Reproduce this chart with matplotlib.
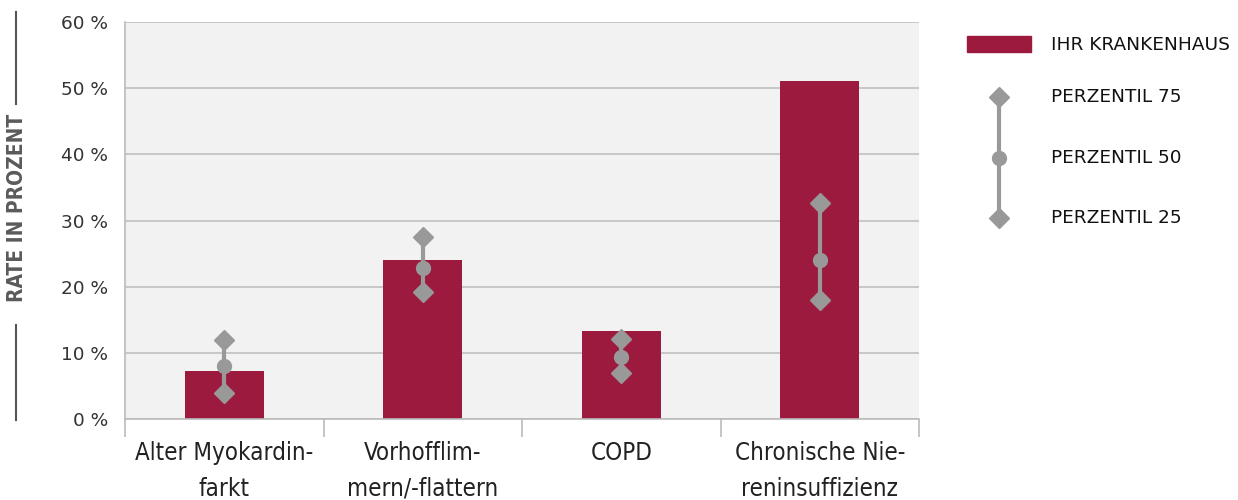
import matplotlib.pyplot as plt
from matplotlib.lines import Line2D
from matplotlib.patches import Rectangle
from matplotlib import font_manager

# values (percent)
categories = ['Alter Myokardin-\nfarkt', 'Vorhofflim-\nmern/-flattern', 'COPD', 'Chronische Nie-\nreninsuffizienz']
hospital = [7.2, 24.0, 13.3, 51.1]
p75 = [11.9, 27.5, 12.1, 32.6]
p50 = [8.0, 22.8, 9.4, 24.0]
p25 = [3.9, 19.2, 6.9, 18.0]
yticks = [0, 10, 20, 30, 40, 50, 60]

bar_color = '#9b1a3e'
grey = '#999999'

# pick a condensed face if one is installed
names = {f.name for f in font_manager.fontManager.ttflist}
if 'DejaVu Sans Condensed' in names:
    narrow = dict(family='DejaVu Sans Condensed')
elif 'Liberation Sans Narrow' in names:
    narrow = dict(family='Liberation Sans Narrow')
else:
    narrow = dict(family='DejaVu Sans', stretch='condensed')

fig = plt.figure(figsize=(12.38, 5), dpi=100)
W, H = 1238, 500
ax = fig.add_axes([125 / W, 1 - 419 / H, (919 - 125) / W, (419 - 22) / H])
ax.set_facecolor('#f2f2f2')

x = list(range(len(categories)))
ax.bar(x, hospital, width=0.4, color=bar_color, zorder=2)
for i in x:
    ax.plot([i, i], [p25[i], p75[i]], color=grey, lw=3, zorder=3)
    ax.plot([i, i], [p75[i], p25[i]], 'D', color=grey, ms=10, zorder=4)
    ax.plot(i, p50[i], 'o', color=grey, ms=10, zorder=4)

ax.set_xlim(-0.5, len(categories) - 0.5)
ax.set_ylim(0, 60)
ax.set_yticks(yticks)
ax.set_yticklabels([f'{v} %' for v in yticks], fontsize=13.3, color='#333333')
ax.yaxis.grid(True, color='#c0c0c0', lw=1.2, zorder=1)
ax.set_axisbelow(True)
ax.tick_params(axis='y', length=0, pad=12)

ax.set_xticks(x)
ax.set_xticklabels(categories, fontsize=17.3, color='#222222', linespacing=1.6, **narrow)
ax.set_xticks([-0.5, 0.5, 1.5, 2.5, 3.5], minor=True)
ax.tick_params(axis='x', which='major', length=0, pad=16)
ax.tick_params(axis='x', which='minor', length=13, color='#bbbbbb', width=1.2)

for s in ['top', 'right']:
    ax.spines[s].set_visible(False)
for s in ['left', 'bottom']:
    ax.spines[s].set_color('#bbbbbb')
    ax.spines[s].set_linewidth(1.2)

# rotated y label with lines above and below
fig.text(17 / W, 1 - 208 / H, 'RATE IN PROZENT', rotation=90, ha='center', va='center',
         fontsize=15, fontweight='bold', color='#5a5a5a', **narrow)
fig.add_artist(Line2D([16 / W, 16 / W], [1 - 12 / H, 1 - 104 / H], color='#555555', lw=1.5))
fig.add_artist(Line2D([16 / W, 16 / W], [1 - 325 / H, 1 - 420 / H], color='#555555', lw=1.5))

# legend drawn by hand
fig.add_artist(Rectangle((967 / W, 1 - 52 / H), 64 / W, 16 / H, color=bar_color))
fig.text(1051 / W, 1 - 45 / H, 'IHR KRANKENHAUS', fontsize=13.3, va='center', color='#111111')
lx = 999 / W
fig.add_artist(Line2D([lx, lx], [1 - 97 / H, 1 - 218 / H], color=grey, lw=3))
fig.add_artist(Line2D([lx, lx], [1 - 97 / H, 1 - 218 / H], marker='D', ls='none', color=grey, ms=10))
fig.add_artist(Line2D([lx], [1 - 158 / H], marker='o', ls='none', color=grey, ms=10))
for y, lab in [(97, 'PERZENTIL 75'), (158, 'PERZENTIL 50'), (218, 'PERZENTIL 25')]:
    fig.text(1051 / W, 1 - y / H, lab, fontsize=13.3, va='center', color='#111111')

fig.savefig('out.png', dpi=100)
